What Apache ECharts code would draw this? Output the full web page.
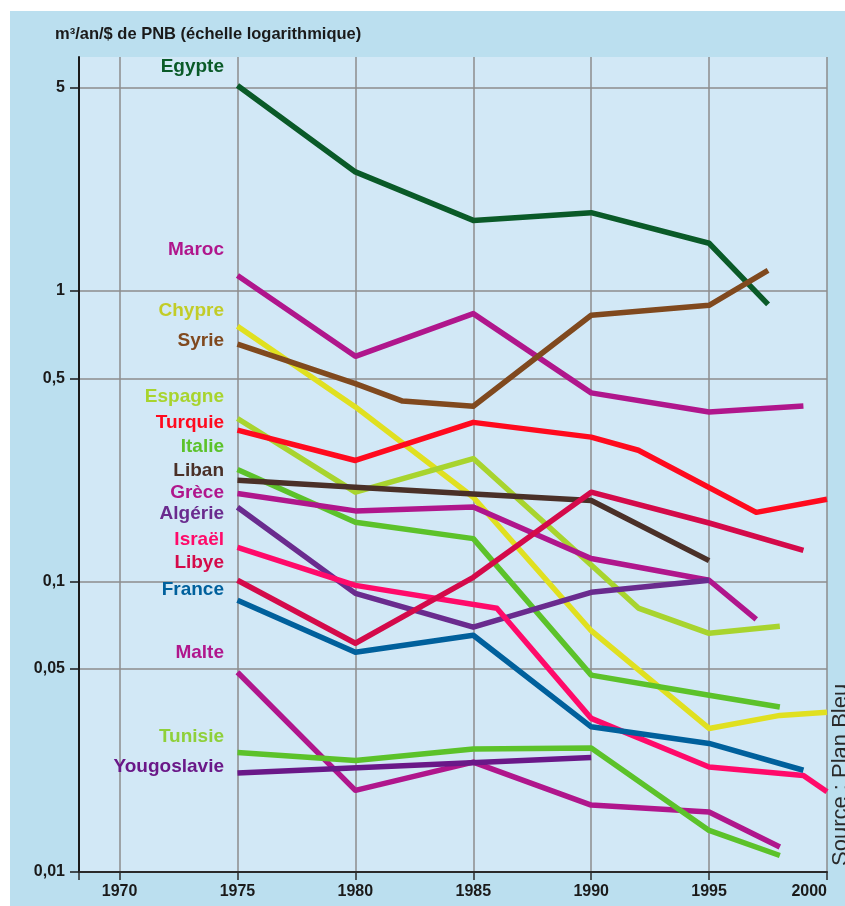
<!DOCTYPE html>
<html><head><meta charset="utf-8">
<script src="https://cdn.jsdelivr.net/npm/echarts@6/dist/echarts.min.js"></script>
<style>html,body{margin:0;padding:0;background:#fff}#c{width:845px;height:906px}</style>
</head><body><div id="c"></div>
<script>
// ---- data (years, m3/an/$ de PNB) ----
const countries = ['Egypte','Maroc','Chypre','Syrie','Espagne','Turquie','Italie','Liban','Grèce','Algérie','Israël','Libye','France','Malte','Tunisie','Yougoslavie'];
const egypte  = [[1975,5.1],[1980,2.57],[1985,1.75],[1990,1.86],[1995,1.46],[1997.5,0.90]];
const maroc   = [[1975,1.13],[1980,0.596],[1985,0.836],[1990,0.446],[1995,0.383],[1999,0.402]];
const chypre  = [[1975,0.756],[1980,0.399],[1985,0.195],[1990,0.0677],[1995,0.0312],[1998,0.0346],[2000,0.0355]];
const syrie   = [[1975,0.656],[1980,0.480],[1982,0.418],[1985,0.401],[1990,0.825],[1995,0.893],[1997.5,1.178]];
const espagne = [[1975,0.364],[1980,0.203],[1985,0.265],[1990,0.114],[1992,0.081],[1995,0.0663],[1998,0.0701]];
const turquie = [[1975,0.332],[1980,0.261],[1985,0.353],[1990,0.314],[1992,0.283],[1997,0.173],[2000,0.192]];
const italie  = [[1975,0.243],[1980,0.160],[1985,0.1405],[1990,0.0476],[1995,0.0406],[1998,0.0370]];
const liban   = [[1975,0.223],[1980,0.211],[1985,0.200],[1990,0.190],[1995,0.118]];
const grece   = [[1975,0.201],[1980,0.175],[1985,0.1805],[1990,0.120],[1995,0.101],[1997,0.0741]];
const algerie = [[1975,0.180],[1980,0.091],[1985,0.0696],[1990,0.0918],[1995,0.101]];
const israel  = [[1975,0.131],[1980,0.097],[1986,0.0809],[1990,0.0338],[1995,0.0230],[1999,0.0215],[2000,0.0189]];
const libye   = [[1975,0.101],[1980,0.0613],[1985,0.1034],[1990,0.203],[1995,0.159],[1999,0.128]];
const france  = [[1975,0.0862],[1980,0.0571],[1985,0.0653],[1990,0.0316],[1995,0.0277],[1999,0.0224]];
const malte   = [[1975,0.0487],[1980,0.0191],[1985,0.0239],[1990,0.0170],[1995,0.0161],[1998,0.0122]];
const tunisie = [[1975,0.0258],[1980,0.0242],[1985,0.0265],[1990,0.0267],[1995,0.0139],[1998,0.0114]];
const yougoslavie = [[1975,0.0219],[1990,0.0248]];
const yearTicks  = [1970,1975,1980,1985,1990,1995,2000];
const valueTicks = [0.01,0.05,0.1,0.5,1,5];
const valueTickLabels = ['0,01','0,05','0,1','0,5','1','5'];
const titleText = 'm³/an/$ de PNB (échelle logarithmique)';
const sourceText = 'Source : Plan Bleu';

// ---- styles / layout ----
const seriesData = [egypte,maroc,chypre,syrie,espagne,turquie,italie,liban,grece,algerie,israel,libye,france,malte,tunisie,yougoslavie];
const lineColors = ['#0a5a28','#b0168c','#e0e020','#80491e','#a8d42e','#ff0a1e','#5cc22a','#4a3028','#b0168c','#6a2b8e','#ff0a6a','#d40a4a','#00609c','#b0168c','#5cc22a','#6a1888'];
const labelColors = ['#0a5a28','#b0168c','#c2cc28','#80491e','#a8d42e','#ff0a1e','#5cc22a','#4a3028','#b0168c','#6a2b8e','#ff0a6a','#d40a4a','#00609c','#b0168c','#8fd03a','#6a1888'];
const labelY = [67,250,311,341,397,423,447,471,493,514,540,563,590,653,737,767];

const chart = echarts.init(document.getElementById('c'), null, {renderer:'canvas'});
const FONT = 'Liberation Sans, Arial, sans-serif';

const graphics = [
  {type:'rect', shape:{x:0,y:0,width:845,height:11}, style:{fill:'#ffffff'}, silent:true},
  {type:'rect', shape:{x:0,y:0,width:10,height:906}, style:{fill:'#ffffff'}, silent:true},
  {type:'text', x:55, y:34, style:{text:titleText, fill:'#1a1a1a', font:'bold 16.5px '+FONT, textAlign:'left', textVerticalAlign:'middle'}},
  {type:'text', x:830, y:866, rotation:Math.PI/2, style:{text:sourceText, fill:'#2a2a2a', font:'22px '+FONT, textAlign:'left', textVerticalAlign:'top'}}
];
countries.forEach((name,i)=>{
  graphics.push({type:'text', x:224, y:labelY[i], z:10, style:{text:name, fill:labelColors[i], font:'bold 19px '+FONT, textAlign:'right', textVerticalAlign:'middle'}});
});

chart.setOption({
  animation:false,
  backgroundColor:'#bbdfef',
  grid:{left:79, top:57, right:18, bottom:34, show:true, backgroundColor:'#d2e8f6', borderWidth:0},
  xAxis:{
    type:'value', min:1968.28, max:2000,
    axisLine:{onZero:false, lineStyle:{color:'#2a2a2a', width:2}},
    axisTick:{customValues:[1968.28].concat(yearTicks), length:8, lineStyle:{color:'#2a2a2a', width:1.5}},
    axisLabel:{customValues:yearTicks, alignMaxLabel:'right', margin:12, color:'#1a1a1a', fontSize:16, fontWeight:'bold', fontFamily:FONT, formatter:v=>String(Math.round(v))},
    splitLine:{show:true, lineStyle:{color:'#8c8c8c', width:1.5}}
  },
  yAxis:{
    type:'log', logBase:10, min:0.01, max:6.39,
    axisLine:{onZero:false, lineStyle:{color:'#1a1a1a', width:2}},
    axisTick:{customValues:valueTicks, length:9, lineStyle:{color:'#1a1a1a', width:1.5}},
    axisLabel:{customValues:valueTicks, margin:14, color:'#1a1a1a', fontSize:16, fontWeight:'bold', fontFamily:FONT,
      formatter:v=>{let best=0;valueTicks.forEach((t,k)=>{if(Math.abs(Math.log10(t)-Math.log10(v))<Math.abs(Math.log10(valueTicks[best])-Math.log10(v)))best=k;});return valueTickLabels[best];}},
    splitLine:{show:true, lineStyle:{color:'#8c8c8c', width:1.5}}
  },
  graphic:graphics,
  series: countries.map((name,i)=>({
    name, type:'line', data:seriesData[i], showSymbol:false, symbol:'none',
    lineStyle:{color:lineColors[i], width:5.5, join:'round', cap:'butt'},
    z:2+i
  }))
});
</script></body></html>
